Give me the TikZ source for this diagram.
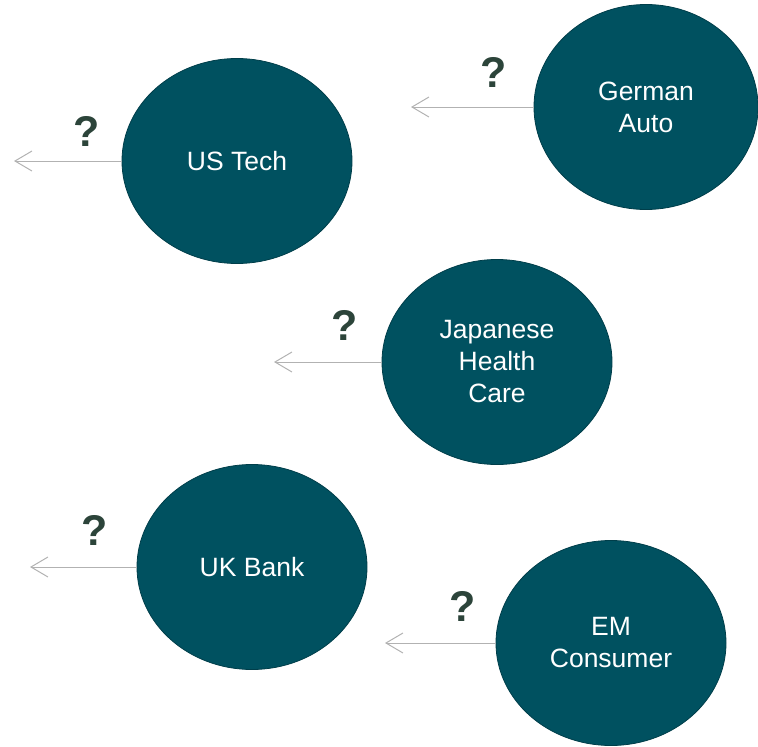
\documentclass[tikz,border=0pt]{standalone}
\usepackage{fontspec}
\setmainfont{Liberation Sans}
\usetikzlibrary{shapes.geometric,arrows.meta}

\definecolor{sectorfill}{RGB}{0,81,96}
\definecolor{sectorline}{RGB}{0,62,74}
\definecolor{qmark}{RGB}{44,68,58}
\definecolor{arrowgray}{RGB}{178,178,178}

\tikzset{
  sector/.style = {ellipse, fill = sectorfill, draw = sectorline, line width = .8pt,
    minimum width = 230pt, minimum height = 205pt, inner sep = 0pt,
    text = white, align = center, font = \fontsize{26.5}{32}\selectfont},
  ask/.style = {text = qmark, font = \fontsize{43}{43}\selectfont\bfseries},
  flow/.style = {draw = arrowgray, line width = 1pt,
    -{Straight Barb[length = 17pt, width = 20pt, line width = 1pt]}}
}

\begin{document}
\begin{tikzpicture}[x = 1pt, y = -1pt]
    \useasboundingbox (0,0) rectangle (758,747);
    \node [sector] (ustech) at (237,161) {US Tech};
    \node [sector, minimum width = 224pt] (german) at (646,107) {German\\Auto};
    \node [sector] (japan) at (497,362) {Japanese\\Health\\Care};
    \node [sector] (ukbank) at (252,567) {UK Bank};
    \node [sector] (emcons) at (611,643) {EM\\Consumer};
    % free ends of the arrows
    \coordinate (ustech-end) at (14,161);
    \coordinate (german-end) at (411,107);
    \coordinate (japan-end) at (274,362);
    \coordinate (ukbank-end) at (30,567);
    \coordinate (emcons-end) at (385,643);
    \foreach \s in {ustech, german, japan, ukbank, emcons} {
      \draw [flow] (\s.west) -- (\s-end);
    }
    \node [ask] (q1) at (87,131) {?};
    \node [ask] (q2) at (494,72) {?};
    \node [ask] (q3) at (345,325) {?};
    \node [ask] (q4) at (95,530) {?};
    \node [ask] (q5) at (463,606) {?};
  \end{tikzpicture}
\end{document}
